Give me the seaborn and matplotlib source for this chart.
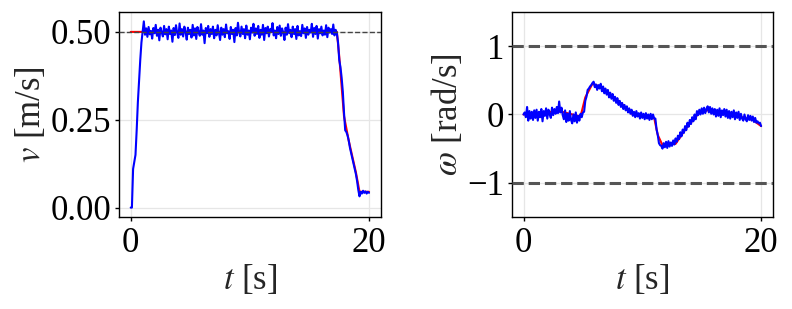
import numpy as np
import pandas as pd
import matplotlib
matplotlib.use("Agg")
import matplotlib.pyplot as plt
import seaborn as sns

# ---------------- data ----------------
dt = 0.1  # sampling period of the measured signals [s]

# measured linear velocity (blue), one sample every dt starting at t=0
v_meas = [
    0.0, 0.0, 0.11, 0.13, 0.15, 0.22, 0.30, 0.36, 0.42, 0.47, 0.50, 0.53,
    0.492, 0.510, 0.486, 0.514, 0.493, 0.503, 0.481, 0.511, 0.496, 0.520,
    0.489, 0.506, 0.476, 0.512, 0.498, 0.487, 0.517, 0.493, 0.508, 0.479,
    0.515, 0.494, 0.504, 0.472, 0.511, 0.491, 0.519, 0.497, 0.483, 0.524,
    0.492, 0.508, 0.487, 0.515, 0.500, 0.478, 0.512, 0.494, 0.506, 0.484,
    0.520, 0.490, 0.510, 0.480, 0.514, 0.498, 0.489, 0.522, 0.492, 0.504,
    0.468, 0.511, 0.496, 0.517, 0.486, 0.508, 0.494, 0.515, 0.482, 0.506,
    0.490, 0.519, 0.498, 0.477, 0.512, 0.492, 0.508, 0.485, 0.521, 0.496,
    0.502, 0.480, 0.514, 0.494, 0.506, 0.471, 0.511, 0.490, 0.526, 0.498,
    0.487, 0.515, 0.494, 0.508, 0.482, 0.518, 0.492, 0.504, 0.479, 0.512,
    0.498, 0.523, 0.489, 0.510, 0.494, 0.517, 0.483, 0.506, 0.492, 0.520,
    0.477, 0.511, 0.496, 0.515, 0.487, 0.508, 0.500, 0.525, 0.490, 0.504,
    0.482, 0.514, 0.494, 0.518, 0.489, 0.510, 0.498, 0.477, 0.512, 0.492,
    0.522, 0.496, 0.506, 0.485, 0.515, 0.494, 0.508, 0.480, 0.517, 0.490,
    0.502, 0.488, 0.520, 0.496, 0.510, 0.483, 0.514, 0.492, 0.506, 0.498,
    0.523, 0.486, 0.511, 0.494, 0.517, 0.481, 0.508, 0.496, 0.515, 0.490,
    0.504, 0.492, 0.519, 0.485, 0.512, 0.498, 0.508, 0.494, 0.521, 0.490,
    0.506, 0.496,
    0.47, 0.42, 0.40, 0.37, 0.33, 0.27, 0.22, 0.215, 0.205, 0.19,
    0.17, 0.155, 0.14, 0.125, 0.11, 0.095, 0.075, 0.05, 0.032, 0.045,
    0.04, 0.048, 0.042, 0.046, 0.04, 0.045, 0.042,
]

# measured angular velocity (blue), one sample every dt starting at t=0
w_meas = [
    0.0, 0.03, -0.04, 0.11, -0.09, 0.05, -0.06, 0.04, -0.08, 0.06,
    -0.05, 0.07, -0.09, 0.04, -0.04, 0.08, -0.10, 0.05, -0.02, 0.09,
    -0.06, 0.07, 0.00, -0.05, 0.10, -0.01, 0.08, 0.01, 0.11, 0.02,
    0.19, 0.03, 0.10, -0.01, -0.07, 0.06, -0.11, 0.01, -0.09, 0.05,
    -0.08, -0.13, 0.00, -0.10, 0.03, -0.12, -0.02, -0.09, 0.01, -0.04,
    0.03, 0.04, 0.20, 0.26, 0.36, 0.38, 0.41, 0.43, 0.46, 0.48,
    0.40, 0.44, 0.36, 0.43, 0.38, 0.45, 0.34, 0.41, 0.31, 0.38,
    0.29, 0.36, 0.25, 0.32, 0.23, 0.30, 0.20, 0.26, 0.17, 0.24,
    0.14, 0.20, 0.11, 0.17, 0.08, 0.14, 0.06, 0.12, 0.03, 0.09,
    0.01, 0.07, -0.02, 0.04, -0.04, 0.05, -0.03, 0.02, -0.06, 0.03,
    -0.05, 0.01, -0.07, 0.02, -0.06, 0.00, -0.08, 0.01, -0.07, 0.00,
    -0.06, -0.06, -0.22, -0.30, -0.42, -0.45, -0.46, -0.50, -0.42, -0.48,
    -0.40, -0.49, -0.39, -0.47, -0.41, -0.46, -0.38, -0.44, -0.35, -0.40,
    -0.31, -0.36, -0.26, -0.32, -0.22, -0.27, -0.17, -0.23, -0.12, -0.18,
    -0.08, -0.14, -0.04, -0.10, 0.00, -0.07, 0.05, -0.01, 0.07, 0.00,
    0.09, 0.01, 0.10, 0.02, 0.08, 0.12, 0.03, 0.11, 0.01, 0.09,
    0.00, 0.08, -0.03, 0.07, -0.02, 0.09, -0.04, 0.06, -0.01, 0.08,
    -0.03, 0.07, -0.05, 0.05, -0.06, 0.04, -0.04, 0.06, -0.07, 0.03,
    -0.05, 0.04, -0.08, 0.01, -0.06, -0.09, 0.00, -0.07, -0.10, -0.01,
    -0.08, -0.02, -0.09, -0.03, -0.11, -0.05, -0.12, -0.10, -0.13, -0.12,
    -0.17,
]

# reference signals (red)
v_ref_t = [0.0, 17.3, 17.5, 17.9, 18.3, 18.9, 19.2, 20.0]
v_ref = [0.5, 0.5, 0.43, 0.26, 0.19, 0.10, 0.045, 0.045]
w_ref_t = [0.0, 3.0, 4.8, 5.2, 5.8, 6.6, 8.3, 9.2, 11.0, 11.3, 11.7,
           12.8, 13.7, 14.8, 15.7, 17.5, 19.3, 20.0]
w_ref = [0.0, 0.05, -0.03, 0.25, 0.45, 0.40, 0.15, 0.0, -0.05, -0.30,
         -0.45, -0.43, -0.20, 0.03, 0.07, 0.0, -0.08, -0.17]

v_limit = 0.5
w_limits = [1.0, -1.0]

x_ticks = [0, 20]
v_ticks = [0.0, 0.25, 0.5]
v_ticklabels = ["0.00", "0.25", "0.50"]
w_ticks = [-1, 0, 1]
w_ticklabels = ["\u22121", "0", "1"]

# ---------------- style ----------------
sns.set_theme(style="whitegrid")
plt.rcParams.update({
    "font.family": ["Liberation Serif", "DejaVu Serif"],
    "mathtext.fontset": "stix",
    "axes.edgecolor": "black",
    "axes.linewidth": 1.0,
    "grid.color": "#e6e6e6",
    "grid.linewidth": 0.9,
    "xtick.bottom": True,
    "ytick.left": True,
    "xtick.color": "black",
    "ytick.color": "black",
    "xtick.major.size": 3.2,
    "ytick.major.size": 3.2,
    "xtick.major.width": 1.0,
    "ytick.major.width": 1.0,
    "axes.unicode_minus": True,
})

FS = 25

df_v = pd.DataFrame({"t": np.arange(len(v_meas)) * dt, "v": v_meas})
df_w = pd.DataFrame({"t": np.arange(len(w_meas)) * dt, "w": w_meas})
df_vr = pd.DataFrame({"t": v_ref_t, "v": v_ref})
df_wr = pd.DataFrame({"t": w_ref_t, "w": w_ref})

fig = plt.figure(figsize=(7.92, 3.09), dpi=100)
ax1 = fig.add_axes([0.150, 0.298, 0.331, 0.663])
ax2 = fig.add_axes([0.646, 0.298, 0.330, 0.663])

# left panel
sns.lineplot(data=df_vr, x="t", y="v", ax=ax1, color="red", lw=1.5,
             estimator=None, sort=False, zorder=2)
sns.lineplot(data=df_v, x="t", y="v", ax=ax1, color="blue", lw=1.5,
             estimator=None, sort=False, zorder=3)
ax1.axhline(v_limit, color="#444444", lw=1.0, ls="--", zorder=4)
ax1.set_xlim(-1, 21)
ax1.set_ylim(-0.0265, 0.5565)
ax1.set_xticks(x_ticks)
ax1.set_yticks(v_ticks)
ax1.set_yticklabels(v_ticklabels)
ax1.set_xlabel(r"$t$ [s]", fontsize=FS, labelpad=2)
ax1.set_ylabel(r"$v$ [m/s]", fontsize=FS, labelpad=2)

# right panel
sns.lineplot(data=df_wr, x="t", y="w", ax=ax2, color="red", lw=1.5,
             estimator=None, sort=False, zorder=2)
sns.lineplot(data=df_w, x="t", y="w", ax=ax2, color="blue", lw=1.5,
             estimator=None, sort=False, zorder=3)
for lim in w_limits:
    ax2.axhline(lim, color="#555555", lw=2.2, ls="--", zorder=4)
ax2.set_xlim(-1, 21)
ax2.set_ylim(-1.5, 1.5)
ax2.set_xticks(x_ticks)
ax2.set_yticks(w_ticks)
ax2.set_yticklabels(w_ticklabels)
ax2.set_xlabel(r"$t$ [s]", fontsize=FS, labelpad=2)
ax2.set_ylabel(r"$\omega$ [rad/s]", fontsize=FS, labelpad=2)

for ax in (ax1, ax2):
    ax.tick_params(axis="y", labelsize=FS, pad=2)
    ax.tick_params(axis="x", labelsize=FS, pad=4)
    for s in ax.spines.values():
        s.set_color("black")
        s.set_visible(True)

fig.savefig("out.png", dpi=100)
